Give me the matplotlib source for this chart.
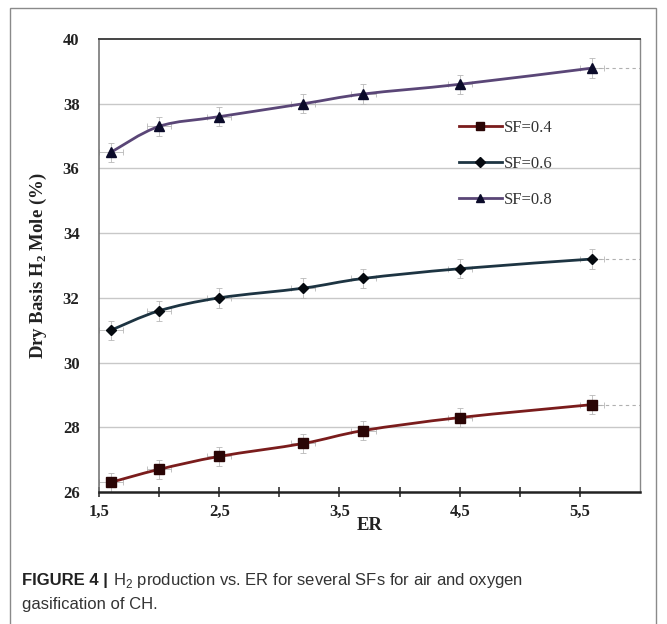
import numpy as np
import matplotlib
matplotlib.use("Agg")
import matplotlib.pyplot as plt
from matplotlib.path import Path
from matplotlib.patches import PathPatch, Rectangle
from matplotlib.lines import Line2D
from matplotlib.ticker import FixedLocator, NullFormatter

# Equivalence ratio values and H2 mole fractions for each steam factor
er = [1.6, 2.0, 2.5, 3.2, 3.7, 4.5, 5.6]
h2_sf04 = [26.3, 26.7, 27.1, 27.5, 27.9, 28.3, 28.7]
h2_sf06 = [31.0, 31.6, 32.0, 32.3, 32.6, 32.9, 33.2]
h2_sf08 = [36.5, 37.3, 37.6, 38.0, 38.3, 38.6, 39.1]
err_y = 0.3
err_x = 0.1

series_labels = ["SF=0.4", "SF=0.6", "SF=0.8"]
x_tick_values = [1.5, 2.5, 3.5, 4.5, 5.5]
x_tick_labels = ["1,5", "2,5", "3,5", "4,5", "5,5"]
x_minor_values = [2.0, 3.0, 4.0, 5.0]
y_tick_values = [26, 28, 30, 32, 34, 36, 38, 40]

line_colors = ["#7a1c1c", "#1d3442", "#5a4677"]
marker_colors = ["#2a0505", "#050a10", "#0b0b2a"]
markers = ["s", "D", "^"]
marker_sizes = [6.5, 5.5, 7.5]

SERIF = ["Liberation Serif", "DejaVu Serif"]
SANS = ["Liberation Sans", "DejaVu Sans"]

plt.rcParams["mathtext.fontset"] = "custom"
plt.rcParams["mathtext.rm"] = "Liberation Serif:bold"
plt.rcParams["mathtext.sf"] = "Liberation Sans"


def smooth_path(xs, ys):
    """Cubic Bezier path through the points (Catmull-Rom style smoothing)."""
    pts = np.column_stack([xs, ys]).astype(float)
    n = len(pts)
    verts = [pts[0]]
    codes = [Path.MOVETO]
    for i in range(n - 1):
        p0 = pts[i - 1] if i > 0 else pts[i]
        p1 = pts[i]
        p2 = pts[i + 1]
        p3 = pts[i + 2] if i + 2 < n else pts[i + 1]
        c1 = p1 + (p2 - p0) / 6.0
        c2 = p2 - (p3 - p1) / 6.0
        verts.extend([c1, c2, p2])
        codes.extend([Path.CURVE4] * 3)
    return Path(verts, codes)


fig = plt.figure(figsize=(6.67, 6.24), dpi=100)
fig.patch.set_facecolor("white")

# Outer frame around the figure and caption
fig.add_artist(Rectangle((10 / 667, -0.05), 646 / 667, 1 - 8 / 624 + 0.05,
                         transform=fig.transFigure, fill=False,
                         edgecolor="#8a8a8a", linewidth=1.0))

ax = fig.add_axes([99 / 667, 1 - 492 / 624, 541 / 667, 453 / 624])
ax.set_xlim(1.5, 6.0)
ax.set_ylim(26, 40)

for yv in y_tick_values[1:-1]:
    ax.axhline(yv, color="#c8c8c8", linewidth=1.0, zorder=0)

all_series = [h2_sf04, h2_sf06, h2_sf08]
for ys, lc, mc, mk, ms in zip(all_series, line_colors, marker_colors, markers, marker_sizes):
    ax.errorbar(er, ys, yerr=err_y, xerr=err_x, fmt="none", ecolor="#b8b8b8",
                elinewidth=0.6, capsize=2, capthick=0.6, zorder=2)
    ax.plot([er[-1], 6.0], [ys[-1], ys[-1]], color="#b0b0b0", linewidth=0.8,
            linestyle=(0, (3, 3)), zorder=2)
    ax.add_patch(PathPatch(smooth_path(er, ys), facecolor="none", edgecolor=lc,
                           linewidth=2.0, zorder=3))
    ax.plot(er, ys, linestyle="none", marker=mk, markersize=ms, color=mc, zorder=4)

# Axes frame
ax.spines["bottom"].set_color("#222222")
ax.spines["bottom"].set_linewidth(1.8)
ax.spines["left"].set_color("#777777")
ax.spines["left"].set_linewidth(1.2)
ax.spines["top"].set_color("#444444")
ax.spines["top"].set_linewidth(1.4)
ax.spines["right"].set_color("#888888")
ax.spines["right"].set_linewidth(1.0)

ax.set_xticks(x_tick_values)
ax.set_xticklabels(x_tick_labels, fontfamily=SERIF, fontweight="bold", fontsize=12,
                   color="#222222")
ax.xaxis.set_minor_locator(FixedLocator(x_minor_values))
ax.xaxis.set_minor_formatter(NullFormatter())
ax.tick_params(axis="x", which="both", direction="inout", length=7, width=1.2,
               color="#333333", pad=5)
ax.set_yticks(y_tick_values)
ax.set_yticklabels([str(v) for v in y_tick_values], fontfamily=SERIF,
                   fontweight="bold", fontsize=12, color="#222222")
ax.tick_params(axis="y", length=0, pad=14)

ax.set_xlabel("ER", fontfamily=SERIF, fontweight="bold", fontsize=13.5,
              color="#222222", labelpad=-2)
ax.set_ylabel(r"Dry Basis H$_\mathregular{2}$ Mole (%)", fontfamily=SERIF,
              fontweight="bold", fontsize=13.5, color="#222222", labelpad=10)

handles = [Line2D([0], [0], color=lc, linewidth=2.0, marker=mk, markersize=ms * 0.85,
                  markerfacecolor=mc, markeredgecolor=mc)
           for lc, mc, mk, ms in zip(line_colors, marker_colors, markers, marker_sizes)]
leg = fig.legend(handles, series_labels, loc="upper left",
                 bbox_to_anchor=(452 / 667, 1 - 113 / 624), frameon=False,
                 prop={"family": SERIF, "size": 12}, handlelength=2.6,
                 handletextpad=0.1, labelspacing=1.2, borderaxespad=0)
for t in leg.get_texts():
    t.set_color("#333333")

# Caption: bold figure tag followed by the description
cap_y = 1 - 581 / 624
tag = fig.text(22 / 667, cap_y, "FIGURE 4 |", fontfamily=SANS, fontweight="bold",
               fontsize=12, color="#222222", va="center")
fig.canvas.draw()
tag_end = tag.get_window_extent().x1 / fig.bbox.width
fig.text(tag_end + 5 / 667, cap_y,
         r"H$_\mathsf{2}$ production vs. ER for several SFs for air and oxygen",
         fontfamily=SANS, fontsize=12, color="#333333", va="center")
fig.text(22 / 667, 1 - 605 / 624, "gasification of CH.", fontfamily=SANS,
         fontsize=12, color="#333333", va="center")

fig.savefig("out.png", dpi=100, facecolor="white")
